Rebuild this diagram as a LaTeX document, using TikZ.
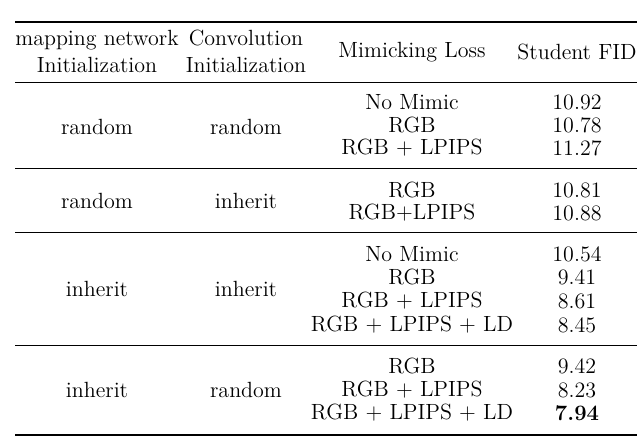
\documentclass[tikz,border=0pt]{standalone}
\begin{document}
\begin{tikzpicture}[x=0.5pt,y=-0.5pt,
  cell/.style={inner sep=0pt,font=\fontsize{11}{13.5}\selectfont,align=center},
  thick rule/.style={line width=1pt},
  thin rule/.style={line width=0.5pt}]
\useasboundingbox (0,0) rectangle (640,437);
\draw[thick rule] (15,22) -- (637,22);
\node[cell] (h1) at (97,51) {mapping network\\Initialization};
\node[cell] (h2) at (246,51) {Convolution\\Initialization};
\node[cell] (h3) at (412,52) {Mimicking Loss};
\node[cell] (h4) at (577,52) {Student FID};
\draw[thin rule] (15,83) -- (637,83);
% block 1
\node[cell] (a1) at (97,127) {random};
\node[cell] (a2) at (246,127) {random};
\node[cell] (a3) at (412,102) {No Mimic};
\node[cell] (a4) at (412,125) {RGB};
\node[cell] (a5) at (412,148) {RGB + LPIPS};
\node[cell] (a6) at (577,102) {10.92};
\node[cell] (a7) at (577,125) {10.78};
\node[cell] (a8) at (577,148) {11.27};
\draw[thin rule] (15,169) -- (637,169);
% block 2
\node[cell] (b1) at (97,201) {random};
\node[cell] (b2) at (246,201) {inherit};
\node[cell] (b3) at (412,190) {RGB};
\node[cell] (b4) at (412,213) {RGB+LPIPS};
\node[cell] (b5) at (577,190) {10.81};
\node[cell] (b6) at (577,213) {10.88};
\draw[thin rule] (15,233) -- (637,233);
% block 3
\node[cell] (c1) at (97,289) {inherit};
\node[cell] (c2) at (246,289) {inherit};
\node[cell] (c3) at (412,254) {No Mimic};
\node[cell] (c4) at (412,277) {RGB};
\node[cell] (c5) at (412,301) {RGB + LPIPS};
\node[cell] (c6) at (412,325) {RGB + LPIPS + LD};
\node[cell] (c7) at (577,254) {10.54};
\node[cell] (c8) at (577,277) {9.41};
\node[cell] (c9) at (577,301) {8.61};
\node[cell] (c10) at (577,325) {8.45};
\draw[thin rule] (15,345) -- (637,345);
% block 4
\node[cell] (d1) at (97,390) {inherit};
\node[cell] (d2) at (246,390) {random};
\node[cell] (d3) at (412,366) {RGB};
\node[cell] (d4) at (412,390) {RGB + LPIPS};
\node[cell] (d5) at (412,413) {RGB + LPIPS + LD};
\node[cell] (d6) at (577,366) {9.42};
\node[cell] (d7) at (577,390) {8.23};
\node[cell] (d8) at (577,413) {\textbf{7.94}};
\draw[thick rule] (15,435) -- (637,435);
\end{tikzpicture}
\end{document}
